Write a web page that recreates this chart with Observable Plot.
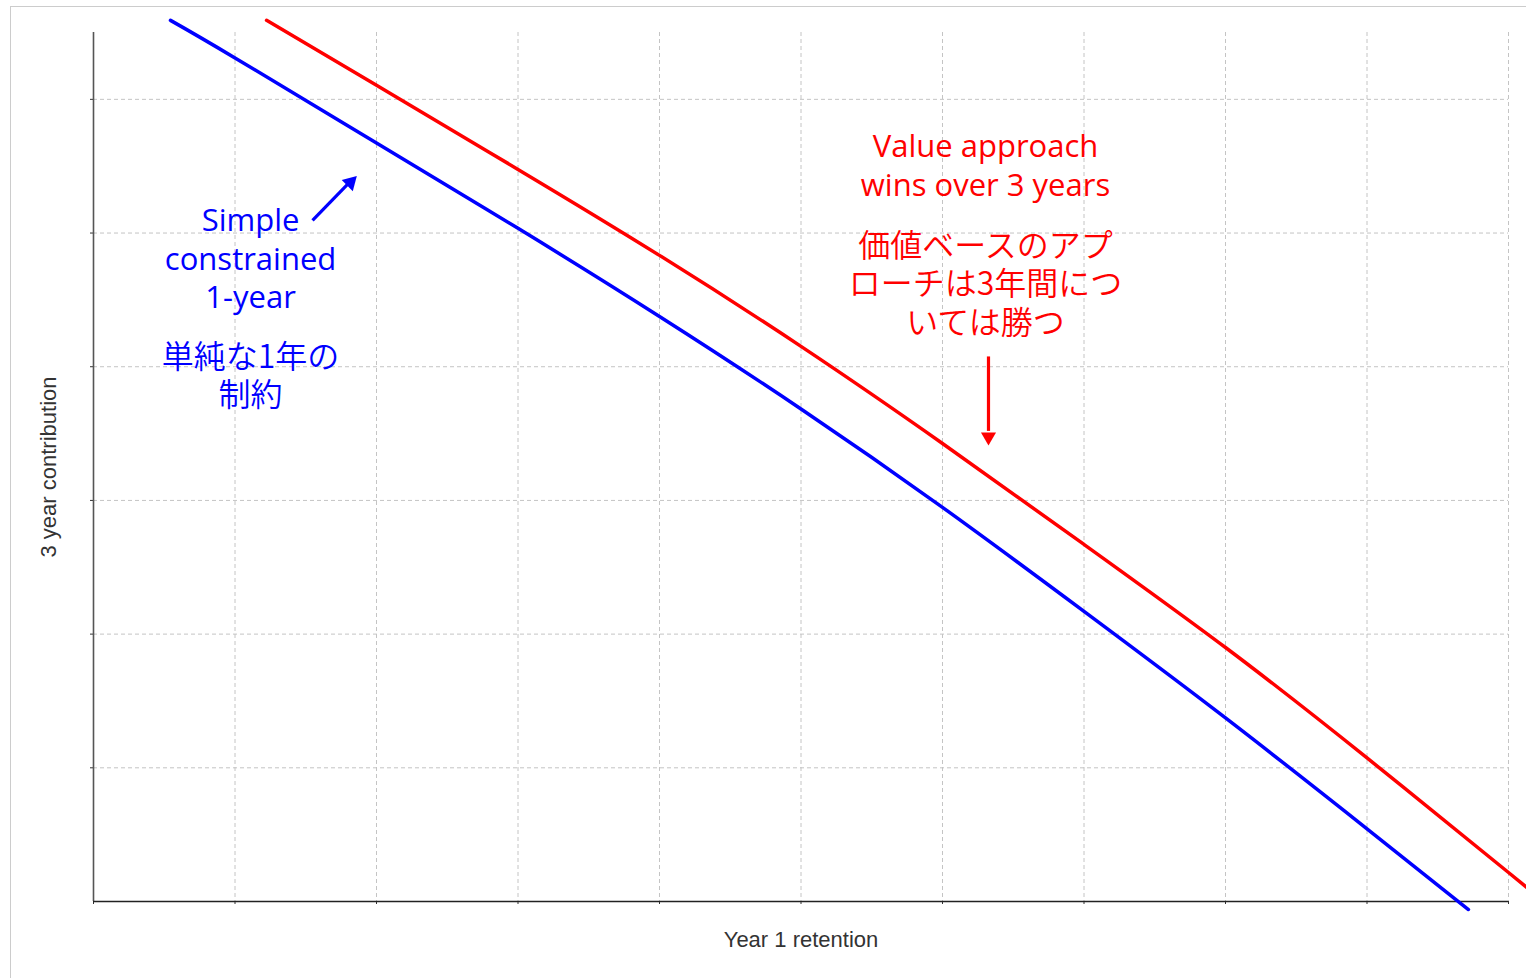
<!DOCTYPE html>
<html><head><meta charset="utf-8">
<script src="https://cdn.jsdelivr.net/npm/d3@7"></script>
<script src="https://cdn.jsdelivr.net/npm/@observablehq/plot@0.6"></script>
<style>
html,body{margin:0;padding:0;background:#fff;}
#frame{position:absolute;left:10px;top:6px;right:0;bottom:0;border-left:1px solid #cccccc;border-top:1px solid #cccccc;}
#chart{position:absolute;left:0;top:0;}
</style></head><body>
<div id="frame"></div>
<div id="chart"></div>
<script>
// Axis ticks (unlabelled in the original)
const retentionTicks = [0,1,2,3,4,5,6,7,8,9,10];
const contributionTicks = [1,2,3,4,5,6];

// Series: "Simple constrained 1-year" (blue)
const simpleX = [0.544, 1, 2, 3, 4, 5, 6, 7, 8, 9, 9.717];
const simpleY = [6.591, 6.310, 5.674, 5.035, 4.376, 3.684, 2.948, 2.170, 1.373, 0.544, -0.06];
// Series: "Value approach" (red)
const valueX = [1.223, 2, 3, 4, 5, 6, 7, 8, 9, 10, 10.07];
const valueY = [6.591, 6.105, 5.476, 4.833, 4.152, 3.426, 2.671, 1.900, 1.074, 0.217, 0.157];

// Texts
const xLabel = "Year 1 retention";
const yLabel = "3 year contribution";
const simpleLabel = "Simple\nconstrained\n1-year";
const simpleLabelJa = "単純な1年の\n制約";
const valueLabel = "Value approach\nwins over 3 years";
const valueLabelJa = "価値ベースのアプ\nローチは3年間につ\nいては勝つ";

const simple = simpleX.map((x, i) => ({x, y: simpleY[i]}));
const value = valueX.map((x, i) => ({x, y: valueY[i]}));

const BLUE = "#0000ff", RED = "#ff0000";
const EN = "'Open Sans', 'Noto Sans', sans-serif";
const JA = "'Noto Sans CJK JP', sans-serif";
const AX = "'Liberation Sans', Arial, sans-serif";

const chart = Plot.plot({
  width: 1526, height: 978,
  marginLeft: 93, marginRight: 18, marginTop: 32, marginBottom: 77,
  x: {domain: [0, 10]},
  y: {domain: [0, 6.5]},
  style: {background: "transparent", overflow: "visible"},
  marks: [
    Plot.gridX(retentionTicks.slice(1), {stroke: "#c4c4c4", strokeOpacity: 1, strokeDasharray: "4,3"}),
    Plot.gridY(contributionTicks, {stroke: "#c4c4c4", strokeOpacity: 1, strokeDasharray: "4,3"}),
    Plot.axisX(retentionTicks, {tickSize: 3, tickFormat: () => "", label: null, stroke: "#333"}),
    Plot.axisY(contributionTicks, {tickSize: 3, tickFormat: () => "", label: null, stroke: "#333"}),
    Plot.ruleX([0], {stroke: "#555", strokeWidth: 1.6}),
    Plot.ruleY([0], {stroke: "#222", strokeWidth: 1.6}),
    Plot.line(simple, {x: "x", y: "y", stroke: BLUE, strokeWidth: 3.5, curve: "natural"}),
    Plot.line(value, {x: "x", y: "y", stroke: RED, strokeWidth: 3.5, curve: "natural"}),
    // arrows
    Plot.link([0], {x1: 1.548, y1: 5.095, x2: 1.809, y2: 5.379, stroke: BLUE, strokeWidth: 3.2}),
    Plot.dot([0], {x: 1.859, y: 5.424, dx: -6.1, dy: 6.1, symbol: "triangle", r: 5.8, rotate: 45, fill: BLUE, stroke: "none"}),
    Plot.link([0], {x1: 6.325, y1: 4.077, x2: 6.325, y2: 3.52, stroke: RED, strokeWidth: 3.2}),
    Plot.dot([0], {x: 6.325, y: 3.411, dy: -8.7, symbol: "triangle", r: 5.6, rotate: 180, fill: RED, stroke: "none"}),
    // annotations
    Plot.text([simpleLabel], {x: 1.11, y: 4.797, dy: -3, fill: BLUE, fontSize: 31, fontWeight: 500, lineHeight: 1.25, fontFamily: EN}),
    Plot.text([simpleLabelJa], {x: 1.11, y: 3.93, dy: -1, fill: BLUE, fontSize: 32, fontWeight: 350, lineHeight: 1.16, fontFamily: JA}),
    Plot.text([valueLabel], {x: 6.304, y: 5.493, dy: -3, fill: RED, fontSize: 31, fontWeight: 500, lineHeight: 1.27, fontFamily: EN}),
    Plot.text([valueLabelJa], {x: 6.304, y: 4.605, dy: -3, fill: RED, fontSize: 32, fontWeight: 350, lineHeight: 1.2, fontFamily: JA}),
    // axis titles
    Plot.text([xLabel], {frameAnchor: "bottom", dy: 45, fill: "#333", fontSize: 22, fontFamily: AX}),
    Plot.text([yLabel], {frameAnchor: "left", textAnchor: "middle", dx: -45, rotate: -90, fill: "#333", fontSize: 22, fontFamily: AX})
  ]
});
document.getElementById("chart").appendChild(chart);
</script>
</body></html>
